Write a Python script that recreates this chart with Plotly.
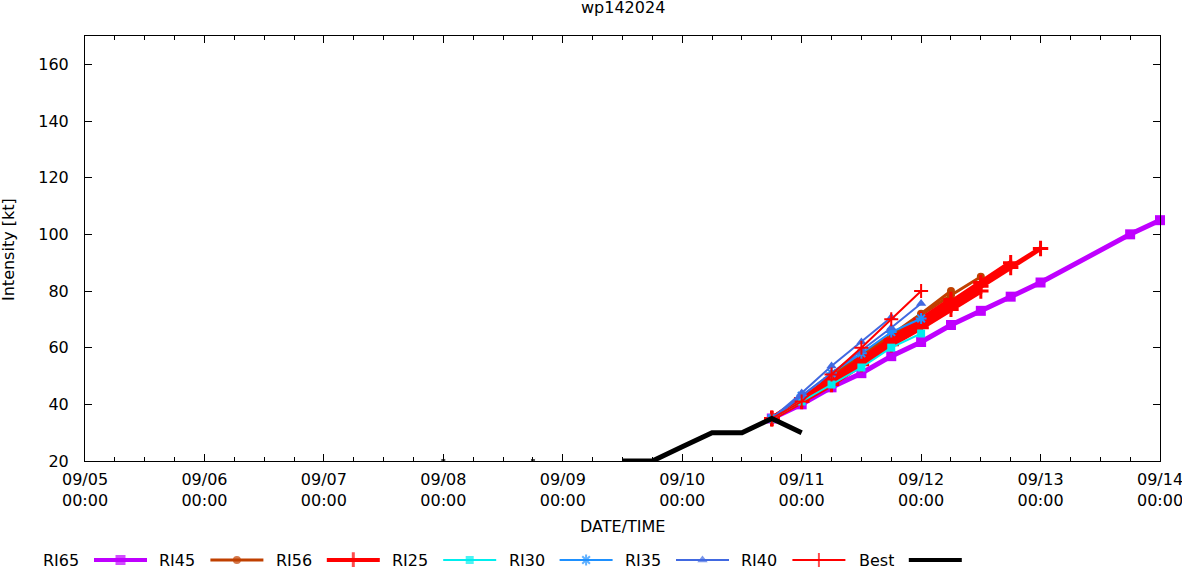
import plotly.graph_objects as go
import pandas as pd

# ---------------- data ----------------
TITLE = "wp142024"
INIT = "2024-09-10 18:00"          # forecast start (all RI tracks)
X_START = "2024-09-05 00:00:00"
X_END = "2024-09-14 00:00:01"
day_ticks = ["2024-09-%02d 00:00" % d for d in range(5, 15)]
day_labels = ["09/%02d<br>00:00" % d for d in range(5, 15)]
y_ticks = [20, 40, 60, 80, 100, 120, 140, 160]

best_time = ["2024-09-08 00:00", "2024-09-08 06:00", "2024-09-08 18:00", "2024-09-09 00:00",
             "2024-09-09 12:00", "2024-09-09 18:00", "2024-09-10 00:00", "2024-09-10 06:00",
             "2024-09-10 12:00", "2024-09-10 18:00", "2024-09-11 00:00"]
best_vmax = [20, None, 20, None, 20, 20, 25, 30, 30, 35, 30]

# lead hours (6-hourly unless given) and intensities for each forecast track
ri65_lead = [[0, 6, 12, 18, 24, 30, 36, 42, 48, 54, 72, 78]]
ri65_vmax = [[35, 40, 46, 51, 57, 62, 68, 73, 78, 83, 100, 105]]
ri45_vmax = [[35, 42, 50, 57.5, 64.5, 72, 80],
             [35, 42, 49.5, 57, 64, 71.5, 78.5, 85]]
ri56_vmax = [[35, 41.7, 48.3, 55, 61.7, 68.3, 75, 81.7, 88.3, 95],
             [35, 42, 49, 56, 62.5, 69, 76, 83, 90],
             [35, 41, 47, 54, 61, 67, 73.5, 80],
             [35, 42, 49, 56, 63, 70, 77]]
ri25_vmax = [[35, 41, 47, 53, 60, 65]]
ri30_vmax = [[35, 43, 51, 58, 65.5, 70.3]]
ri35_vmax = [[35, 44, 53.5, 62, 70.7],
             [35, 43, 51, 59, 67, 75.6]]
ri40_vmax = [[35, 41, 50.5, 60, 70, 80]]

series_names = ["RI65", "RI45", "RI56", "RI25", "RI30", "RI35", "RI40", "Best"]

# ---------------- styles ----------------
styles = {
    "RI65": dict(color="#BF00FF", width=5, lwidth=4, symbol="square", size=10, lw=0),
    "RI45": dict(color="#C04000", width=3, lwidth=3, symbol="circle", size=8, lw=0),
    "RI56": dict(color="#FF0000", width=5, lwidth=4, symbol="cross-thin-open", size=11, lw=3),
    "RI25": dict(color="#00EEEE", width=2, lwidth=2, symbol="square", size=8, lw=0),
    "RI30": dict(color="#1E90FF", width=2, lwidth=2, symbol="asterisk-open", size=9, lw=2),
    "RI35": dict(color="#4169E1", width=2, lwidth=2, symbol="triangle-up", size=9, lw=0),
    "RI40": dict(color="#FF0000", width=2, lwidth=2, symbol="cross-thin-open", size=10, lw=2),
    "Best": dict(color="#000000", width=5, lwidth=4, symbol="square", size=0, lw=0),
}

FONT = "DejaVu Sans"
FS = 16
W, H = 1182, 567
L, R, T, B = 0, 22, 36, 0
PW, PH = W - L - R, H - T - B
PLOT_LEFT, PLOT_BOTTOM = 85, 461

fig = go.Figure()
init = pd.Timestamp(INIT)


def add_tracks(name, tracks, leads=None):
    st = styles[name]
    for i, vals in enumerate(tracks):
        ld = leads[i] if leads is not None else [6 * k for k in range(len(vals))]
        times = [init + pd.Timedelta(hours=h) for h in ld]
        fig.add_trace(go.Scatter(
            x=times, y=vals, mode="lines+markers", showlegend=False, cliponaxis=False,
            line=dict(color=st["color"], width=st["width"]),
            marker=dict(symbol=st["symbol"], size=st["size"], color=st["color"],
                        line=dict(color=st["color"], width=st["lw"])),
            xaxis="x", yaxis="y"))


add_tracks("RI65", ri65_vmax, ri65_lead)
add_tracks("RI45", ri45_vmax)
add_tracks("RI56", ri56_vmax)
add_tracks("RI25", ri25_vmax)
add_tracks("RI30", ri30_vmax)
add_tracks("RI35", ri35_vmax)
add_tracks("RI40", ri40_vmax)

# best track: isolated points shown as small squares
bsize = []
for i, v in enumerate(best_vmax):
    prev_none = i == 0 or best_vmax[i - 1] is None
    next_none = i == len(best_vmax) - 1 or best_vmax[i + 1] is None
    bsize.append(5 if (v is not None and prev_none and next_none) else 0)
fig.add_trace(go.Scatter(
    x=pd.to_datetime(best_time), y=best_vmax, mode="lines+markers", showlegend=False,
    connectgaps=False, line=dict(color="black", width=styles["Best"]["width"]),
    marker=dict(symbol="square", size=bsize, color="black"), xaxis="x", yaxis="y"))

# ---------------- custom legend (gnuplot style: text then sample) ----------------
LEG_Y = H - 560
annotations = []
for i, name in enumerate(series_names):
    st = styles[name]
    tr = 80 + 116.4 * i
    x0, x1 = tr + 14, tr + 67
    xm = (x0 + x1) / 2
    fig.add_trace(go.Scatter(
        x=[x0, xm, x1], y=[LEG_Y] * 3, mode="lines+markers", showlegend=False,
        cliponaxis=False, hoverinfo="skip",
        line=dict(color=st["color"], width=st["lwidth"]),
        marker=dict(symbol=st["symbol"], size=[0, st["size"], 0], color=st["color"],
                    line=dict(color=st["color"], width=st["lw"])),
        xaxis="x2", yaxis="y2"))
    annotations.append(dict(text=name, xref="x2", yref="y2", x=tr, y=LEG_Y,
                            xanchor="right", yanchor="middle", showarrow=False,
                            height=14, borderpad=0, valign="middle",
                            font=dict(family=FONT, size=FS, color="black")))

center_x = (PLOT_LEFT + (W - R)) / 2
annotations.append(dict(text=TITLE, xref="paper", yref="paper", x=(center_x - L) / PW,
                        y=(H - 7 - B) / PH, xanchor="center", yanchor="middle", showarrow=False,
                        font=dict(family=FONT, size=FS, color="black")))
annotations.append(dict(text="DATE/TIME", xref="paper", yref="paper", x=(center_x - L) / PW,
                        y=(H - 526 - B) / PH, xanchor="center", yanchor="middle", showarrow=False,
                        font=dict(family=FONT, size=FS, color="black")))
annotations.append(dict(text="Intensity [kt]", xref="paper", yref="paper", x=(8 - L) / PW,
                        y=(H - 250 - B) / PH, xanchor="center", yanchor="middle", textangle=-90,
                        showarrow=False, font=dict(family=FONT, size=FS, color="black")))

fig.update_layout(
    width=W, height=H, margin=dict(l=L, r=R, t=T, b=B, autoexpand=False),
    paper_bgcolor="white", plot_bgcolor="white",
    font=dict(family=FONT, size=FS, color="black"),
    annotations=annotations,
    xaxis=dict(domain=[(PLOT_LEFT - L) / PW, 1], type="date", range=[X_START, X_END],
               tickmode="array", tickvals=day_ticks, ticktext=day_labels,
               ticks="inside", ticklen=7, tickwidth=1, tickcolor="black",
               showline=True, linecolor="black", linewidth=1, mirror="allticks",
               showgrid=False, zeroline=False, anchor="y", ticklabelstandoff=4,
               ticklabeloverflow="allow",
               minor=dict(ticks="inside", ticklen=4, tickwidth=1, tickcolor="black",
                          dtick=6 * 3600 * 1000, tick0=X_START, showgrid=False),
               tickfont=dict(family=FONT, size=FS, color="black")),
    yaxis=dict(domain=[(H - PLOT_BOTTOM - B) / PH, 1], range=[20, 170],
               tickmode="array", tickvals=y_ticks,
               ticks="inside", ticklen=7, tickwidth=1, tickcolor="black",
               showline=True, linecolor="black", linewidth=1, mirror="allticks",
               showgrid=False, zeroline=False, anchor="x", ticklabelstandoff=12,
               tickfont=dict(family=FONT, size=FS, color="black")),
    xaxis2=dict(domain=[0, 1], range=[0, PW], visible=False, anchor="y2", fixedrange=True),
    yaxis2=dict(domain=[0, 0.1], range=[0, 0.1 * PH], visible=False, anchor="x2", fixedrange=True),
)

fig.write_html("out.html", config={"displayModeBar": False},
               post_script="document.body.style.margin='0';")
